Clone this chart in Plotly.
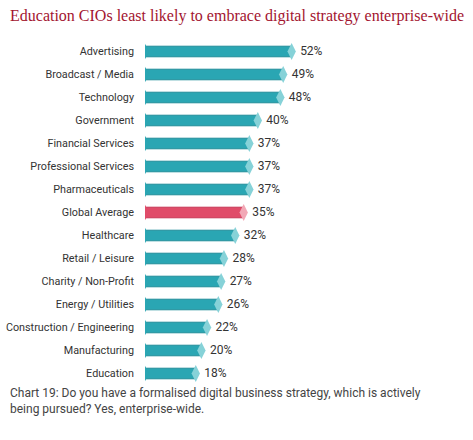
import plotly.graph_objects as go

categories = [
    "Advertising", "Broadcast / Media", "Technology", "Government",
    "Financial Services", "Professional Services", "Pharmaceuticals",
    "Global Average", "Healthcare", "Retail / Leisure", "Charity / Non-Profit",
    "Energy / Utilities", "Construction / Engineering", "Manufacturing", "Education",
]
values = [52, 49, 48, 40, 37, 37, 37, 35, 32, 28, 27, 26, 22, 20, 18]
highlight = "Global Average"

TEAL = "#2aa6b3"
TEAL_EDGE = "#1f8d99"
TEAL_TIP = "#86d2d8"
RED = "#e04c69"
RED_EDGE = "#c73554"
RED_TIP = "#f2a8b6"
LABEL_FONT = "Roboto, sans-serif"

body_col = [RED if c == highlight else TEAL for c in categories]
edge_col = [RED_EDGE if c == highlight else TEAL_EDGE for c in categories]
tip_col = [RED_TIP if c == highlight else TEAL_TIP for c in categories]

L, R, T, B = 145, 30, 40, 55
PW, PH = 473 - L - R, 440 - T - B

fig = go.Figure()

# main bar body
fig.add_trace(go.Bar(
    x=values, y=categories, orientation="h",
    marker=dict(color=body_col, line=dict(color=edge_col, width=1)),
    width=0.46, hoverinfo="skip",
))

# pointed left end
fig.add_trace(go.Scatter(
    x=[0] * len(values), y=categories, mode="markers",
    marker=dict(symbol="diamond-tall", size=11, color=body_col, line=dict(width=0)),
    hoverinfo="skip",
))

# lighter diamond tip + value label
fig.add_trace(go.Scatter(
    x=values, y=categories, mode="markers+text",
    marker=dict(symbol="diamond-tall", size=12, color=tip_col, line=dict(width=0)),
    text=[f"{v}%" for v in values], textposition="middle right",
    textfont=dict(family=LABEL_FONT, size=12, color="#333333"),
    hoverinfo="skip",
))

fig.update_layout(
    width=473, height=440,
    margin=dict(l=L, r=R, t=T, b=B),
    paper_bgcolor="white", plot_bgcolor="white",
    showlegend=False,
    xaxis=dict(range=[0, PW / 2.82], visible=False),
    yaxis=dict(
        range=[len(categories) - 0.5, -0.5],
        showgrid=False, showline=False, zeroline=False,
        ticks="", ticklabelstandoff=10, automargin=False,
        tickfont=dict(family=LABEL_FONT, size=10.8, color="#333333"),
    ),
    annotations=[
        dict(
            text="Education CIOs least likely to embrace digital strategy enterprise-wide",
            xref="paper", yref="paper", x=-(L - 8) / PW, y=1 + 24 / PH,
            xanchor="left", yanchor="middle", showarrow=False,
            font=dict(family="Liberation Serif, serif", size=16, color="#a3142f"),
        ),
        dict(
            text="Chart 19: Do you have a formalised digital business strategy, which is actively<br>being pursued? Yes, enterprise-wide.",
            xref="paper", yref="paper", x=-(L - 8) / PW, y=1 / PH,
            xanchor="left", yanchor="top", align="left", showarrow=False,
            font=dict(family=LABEL_FONT, size=12, color="#444444"),
        ),
    ],
)

fig.write_html("out.html", config={"displayModeBar": False},
               post_script="document.body.style.margin='0';")
